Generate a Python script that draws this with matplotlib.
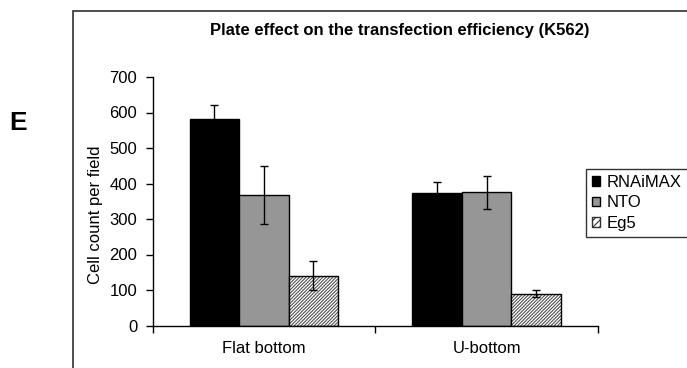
import matplotlib
matplotlib.use("Agg")
import matplotlib.pyplot as plt
from matplotlib.patches import Rectangle, Patch
import numpy as np

plt.rcParams['font.family'] = ['Liberation Sans', 'DejaVu Sans']
plt.rcParams['hatch.linewidth'] = 0.8

# Data
categories = ["Flat bottom", "U-bottom"]
series = ["RNAiMAX", "NTO", "Eg5"]
rnaimax = [583, 374]
nto = [367, 375]
eg5 = [140, 89]
rnaimax_err = [39, 29]
nto_err = [82, 47]
eg5_err = [41, 10]
y_ticks = [0, 100, 200, 300, 400, 500, 600, 700]

values = [rnaimax, nto, eg5]
errors = [rnaimax_err, nto_err, eg5_err]
face = ["#000000", "#969696", "#ffffff"]
hatches = [None, None, "/" * 10]
hatch_col = "#555555"

W, H = 687, 368
fig = plt.figure(figsize=(W / 100, H / 100), dpi=100)

# chart frame
fig.patches.append(Rectangle((72.7 / W, -0.2), 1.3, 0.2 + 1 - 11 / H,
                             transform=fig.transFigure, fill=False,
                             edgecolor="#303030", linewidth=1.2, zorder=0))

ax = fig.add_axes([152.5 / W, 1 - 325.5 / H, 445.5 / W, (325.5 - 77) / H])

x = np.arange(len(categories))
bw = 1 / 4.5
offsets = [-bw, 0, bw]
handles = []
for i, name in enumerate(series):
    pos = x + offsets[i]
    if hatches[i]:
        # hatch drawn in grey, outline in black on top
        ax.bar(pos, values[i], width=bw, color="white", edgecolor=hatch_col,
               linewidth=0, hatch=hatches[i], zorder=2)
        ax.bar(pos, values[i], width=bw, fill=False, edgecolor="black",
               linewidth=1.0, zorder=3)
        handles.append(Patch(facecolor="white", edgecolor="#303030",
                             hatch="/" * 5, linewidth=1.0, label=name))
    else:
        ax.bar(pos, values[i], width=bw, color=face[i], edgecolor="black",
               linewidth=1.0, zorder=2)
        handles.append(Patch(facecolor=face[i], edgecolor="black",
                             linewidth=1.0, label=name))
    ax.errorbar(pos, values[i], yerr=errors[i], fmt="none", ecolor="black",
                elinewidth=1.0, capsize=3.0, capthick=1.0, zorder=4)

ax.set_xlim(-0.5, 1.5)
ax.set_ylim(0, 700)
ax.set_yticks(y_ticks)
ax.set_yticklabels([str(t) for t in y_ticks], fontsize=12)
ax.set_xticks([-0.5, 0.5, 1.5])
ax.set_xticklabels([])
ax.set_xticks(x, minor=True)
ax.set_xticklabels(categories, minor=True, fontsize=12)
ax.tick_params(axis="x", which="minor", length=0, pad=11)
ax.tick_params(axis="x", which="major", length=5, width=1, direction="out")
ax.tick_params(axis="y", length=5, width=1, direction="out", pad=6)
for s in ["top", "right"]:
    ax.spines[s].set_visible(False)
for s in ["left", "bottom"]:
    ax.spines[s].set_linewidth(1.0)

ax.text(-0.127, 0.446, "Cell count per field", transform=ax.transAxes,
        rotation=90, ha="center", va="center", fontsize=12)

fig.text(400 / W, 1 - 31 / H, "Plate effect on the transfection efficiency (K562)",
         ha="center", va="center", fontsize=12, fontweight="bold")

fig.text(18 / W, 1 - 123 / H, "E", ha="center", va="center", fontsize=19,
         fontweight="bold")

leg = fig.legend(handles=handles, loc="upper left",
                 bbox_to_anchor=(586 / W, 1 - 169 / H), borderaxespad=0,
                 frameon=True, fancybox=False, fontsize=12, handlelength=0.5,
                 handleheight=0.5, handletextpad=0.4, labelspacing=0.33,
                 borderpad=0.35)
leg.get_frame().set_edgecolor("black")
leg.get_frame().set_linewidth(1.0)

fig.savefig("out.png", dpi=100)
